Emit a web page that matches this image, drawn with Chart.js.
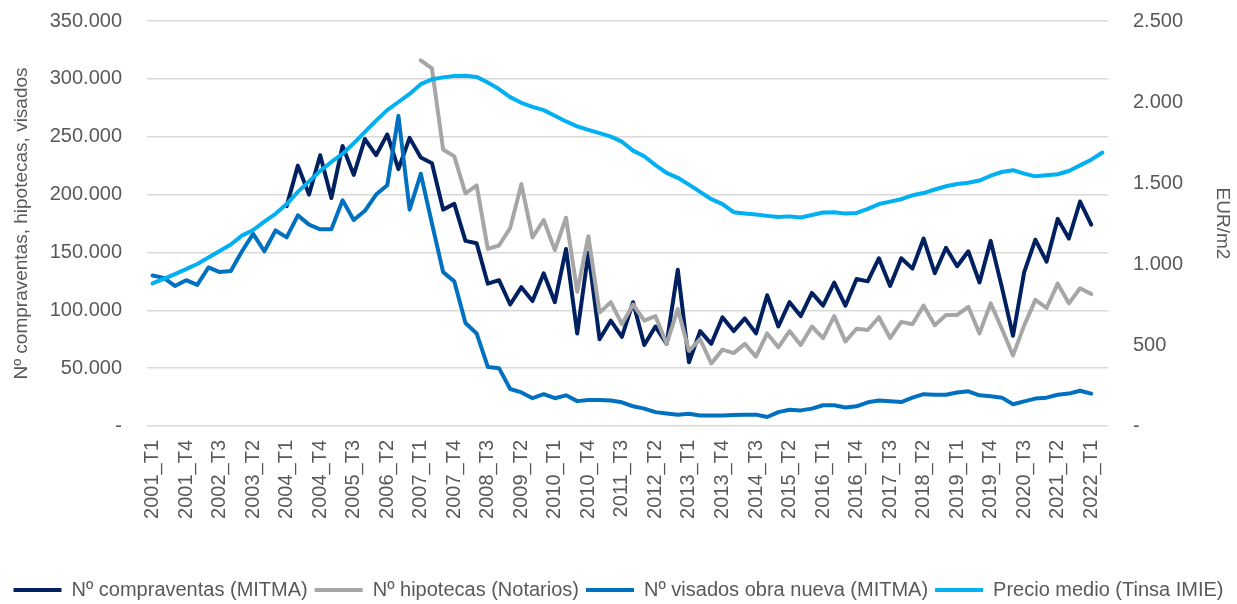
<!DOCTYPE html>
<html>
<head>
<meta charset="utf-8">
<title>Compraventas, hipotecas, visados y precio medio</title>
<script src="https://cdn.jsdelivr.net/npm/chart.js@4.4.1/dist/chart.umd.min.js"></script>
<style>
  html, body { margin: 0; padding: 0; background: #ffffff; }
  #wrap { width: 1237px; height: 604px; }
</style>
</head>
<body>
<div id="wrap"><canvas id="chart" width="1237" height="604"></canvas></div>
<script>
// quarters 2001_T1 .. 2022_T2
const quarters = [
  '2001_T1','2001_T2','2001_T3','2001_T4','2002_T1','2002_T2','2002_T3','2002_T4',
  '2003_T1','2003_T2','2003_T3','2003_T4','2004_T1','2004_T2','2004_T3','2004_T4',
  '2005_T1','2005_T2','2005_T3','2005_T4','2006_T1','2006_T2','2006_T3','2006_T4',
  '2007_T1','2007_T2','2007_T3','2007_T4','2008_T1','2008_T2','2008_T3','2008_T4',
  '2009_T1','2009_T2','2009_T3','2009_T4','2010_T1','2010_T2','2010_T3','2010_T4',
  '2011_T1','2011_T2','2011_T3','2011_T4','2012_T1','2012_T2','2012_T3','2012_T4',
  '2013_T1','2013_T2','2013_T3','2013_T4','2014_T1','2014_T2','2014_T3','2014_T4',
  '2015_T1','2015_T2','2015_T3','2015_T4','2016_T1','2016_T2','2016_T3','2016_T4',
  '2017_T1','2017_T2','2017_T3','2017_T4','2018_T1','2018_T2','2018_T3','2018_T4',
  '2019_T1','2019_T2','2019_T3','2019_T4','2020_T1','2020_T2','2020_T3','2020_T4',
  '2021_T1','2021_T2','2021_T3','2021_T4','2022_T1','2022_T2'
];

// Nº compraventas (MITMA) - from 2004_T1
const compraventas = [
  null, null, null, null, null, null, null, null, null, null, null, null,
  190000, 225000, 200000, 234000, 197000, 242000, 217000, 248000,
  234000, 252000, 222000, 249000, 232000, 227000, 187000, 192000,
  160000, 158000, 123000, 126000, 105000, 120000, 108000, 132000,
  107000, 153000, 80000, 150000, 75000, 91000, 77000, 107000,
  70000, 86000, 71000, 135000, 55000, 82000, 71000, 94000,
  82000, 93000, 80000, 113000, 86000, 107000, 95000, 115000,
  104000, 124000, 104000, 127000, 125000, 145000, 121000, 145000,
  136000, 162000, 132000, 154000, 138000, 151000, 124000, 160000,
  120000, 78000, 133000, 161000, 142000, 179000, 162000, 194000,
  174000, null
];

// Nº hipotecas (Notarios) - from 2007_T1
const hipotecas = [
  null, null, null, null, null, null, null, null, null, null, null, null,
  null, null, null, null, null, null, null, null, null, null, null, null,
  316000, 309000, 239000, 233000, 201000, 208000, 153000, 156000,
  171000, 209000, 163000, 178000, 152000, 180000, 116000, 164000,
  98000, 107000, 88000, 105000, 91000, 95000, 71000, 101000,
  65000, 75000, 54000, 66000, 63000, 71000, 60000, 80000,
  68000, 82000, 70000, 86000, 76000, 95000, 73000, 84000,
  83000, 94000, 76000, 90000, 88000, 104000, 87000, 96000,
  96000, 103000, 80000, 106000, 84000, 61000, 87000, 109000,
  102000, 123000, 106000, 119000, 114000, null
];

// Nº visados obra nueva (MITMA)
const visados = [
  130000, 128000, 121000, 126000, 122000, 137000, 133000, 134000,
  151000, 166000, 151000, 169000, 163000, 182000, 174000, 170000,
  170000, 195000, 178000, 186000, 200000, 208000, 268000, 187000,
  218000, 175000, 133000, 125000, 89000, 80000, 51000, 50000,
  32000, 29000, 24000, 27500, 24000, 26500, 21500, 22500,
  22500, 22000, 20500, 17000, 15000, 12000, 10800, 9800,
  10500, 9000, 9000, 9000, 9500, 9800, 9800, 7800,
  12000, 14000, 13500, 15000, 17900, 17900, 16000, 17000,
  20500, 22000, 21300, 20700, 24500, 27500, 27000, 27000,
  29000, 30000, 26500, 25700, 24500, 18800, 21300, 23700,
  24500, 27000, 28000, 30500, 28000, null
];

// Precio medio (Tinsa IMIE), EUR/m2
const precioMedio = [
  880, 908, 938, 968, 1000, 1040, 1080, 1120,
  1175, 1210, 1262, 1310, 1370, 1445, 1510, 1575,
  1630, 1680, 1745, 1815, 1885, 1950, 2000, 2050,
  2110, 2140, 2152, 2160, 2162, 2155, 2120, 2080,
  2030, 1995, 1970, 1950, 1915, 1880, 1850, 1828,
  1808, 1786, 1755, 1700, 1665, 1610, 1562, 1532,
  1490, 1445, 1400, 1370, 1320, 1312, 1305, 1297,
  1290, 1294, 1287, 1302, 1318, 1320, 1311, 1315,
  1340, 1370, 1385, 1400, 1424, 1438, 1460, 1480,
  1494, 1502, 1515, 1545, 1568, 1579, 1558, 1541,
  1548, 1554, 1574, 1609, 1644, 1688
];

const leftTicks = [0, 50000, 100000, 150000, 200000, 250000, 300000, 350000];
const rightTicks = [0, 500, 1000, 1500, 2000, 2500];

const textColor = '#595959';
const gridColor = '#d9d9d9';

// 2.500 style thousands, zero shown as dash
function fmt(v) {
  if (v === 0) return '-';
  return String(v).replace(/\B(?=(\d{3})+(?!\d))/g, '.');
}

function lineSet(label, data, color, axis, order) {
  return {
    label: label,
    data: data,
    borderColor: color,
    backgroundColor: color,
    borderWidth: 4,
    borderCapStyle: 'round',
    borderJoinStyle: 'round',
    pointRadius: 0,
    pointHoverRadius: 0,
    tension: 0,
    fill: false,
    yAxisID: axis,
    order: order
  };
}

// fixed axis width, no extra top/bottom room from tick padding
function fixWidth(w) {
  return (scale) => {
    scale.width = w;
    scale.paddingTop = 0;
    scale.paddingBottom = 0;
  };
}

const ctx = document.getElementById('chart').getContext('2d');

new Chart(ctx, {
  type: 'line',
  data: {
    labels: quarters,
    datasets: [
      lineSet('Nº compraventas (MITMA)', compraventas, '#002060', 'y', 4),
      lineSet('Nº hipotecas (Notarios)', hipotecas, '#a6a6a6', 'y', 3),
      lineSet('Nº visados obra nueva (MITMA)', visados, '#0070c0', 'y', 2),
      lineSet('Precio medio (Tinsa IMIE)', precioMedio, '#00b0f0', 'y1', 1)
    ]
  },
  options: {
    responsive: false,
    animation: false,
    layout: { padding: { top: 21, left: 0, right: 0, bottom: -6 } },
    plugins: {
      tooltip: { enabled: false },
      legend: {
        position: 'bottom',
        labels: {
          usePointStyle: true,
          pointStyle: 'line',
          pointStyleWidth: 48,
          padding: 7,
          color: textColor,
          font: { family: 'Liberation Sans', size: 20 },
          sort: (a, b) => a.datasetIndex - b.datasetIndex
        }
      }
    },
    scales: {
      x: {
        offset: true,
        grid: { display: false },
        border: { display: false },
        ticks: {
          autoSkip: false,
          maxRotation: 90,
          minRotation: 90,
          padding: 6,
          color: textColor,
          font: { family: 'Liberation Sans', size: 20 },
          callback: function (value, index) {
            return index % 3 === 0 ? quarters[index] : '';
          }
        },
        afterFit: (scale) => { scale.height = 147; }
      },
      y: {
        position: 'left',
        min: leftTicks[0],
        max: leftTicks[leftTicks.length - 1],
        afterBuildTicks: (scale) => { scale.ticks = leftTicks.map(v => ({ value: v })); },
        grid: { color: gridColor, lineWidth: 1.5, drawTicks: false },
        border: { display: false },
        ticks: {
          padding: 25,
          color: textColor,
          font: { family: 'Liberation Sans', size: 20 },
          callback: (v) => fmt(v)
        },
        title: {
          display: true,
          text: 'Nº compraventas, hipotecas, visados',
          color: textColor,
          font: { family: 'Liberation Sans', size: 19 },
          padding: { top: 10, bottom: 0 }
        },
        afterFit: fixWidth(147)
      },
      y1: {
        position: 'right',
        min: rightTicks[0],
        max: rightTicks[rightTicks.length - 1],
        afterBuildTicks: (scale) => { scale.ticks = rightTicks.map(v => ({ value: v })); },
        grid: { drawOnChartArea: false, drawTicks: false },
        border: { display: false },
        ticks: {
          padding: 25,
          color: textColor,
          font: { family: 'Liberation Sans', size: 20 },
          callback: (v) => fmt(v)
        },
        title: {
          display: true,
          text: 'EUR/m2',
          color: textColor,
          font: { family: 'Liberation Sans', size: 19 },
          padding: { top: 3, bottom: 0 }
        },
        afterFit: fixWidth(129)
      }
    }
  }
});
</script>
</body>
</html>
